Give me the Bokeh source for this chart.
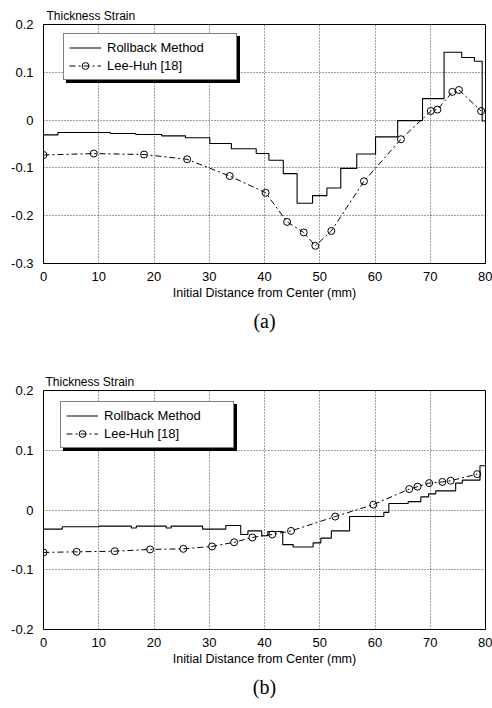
from bokeh.plotting import figure
from bokeh.layouts import column
from bokeh.models import FixedTicker, Legend, LegendItem, Title, Range1d
from bokeh.embed import file_html
from bokeh.resources import INLINE

# ---------------- data ----------------
x_ticks = [0, 10, 20, 30, 40, 50, 60, 70, 80]
x_tick_labels = ["0", "10", "20", "30", "40", "50", "60", "70", "80"]

y_ticks_a = [-0.3, -0.2, -0.1, 0, 0.1, 0.2]
y_tick_labels_a = ["-0.3", "-0.2", "-0.1", "0", "0.1", "0.2"]
y_ticks_b = [-0.2, -0.1, 0, 0.1, 0.2]
y_tick_labels_b = ["-0.2", "-0.1", "0", "0.1", "0.2"]

# (a) Rollback method (step values, each holds until the next x)
roll_a_x = [0, 2.6, 12.1, 16.7, 21.4, 25.7, 30.1, 34.0, 38.5, 40.8, 43.4, 45.9, 48.7,
            51.3, 53.8, 56.7, 60.1, 64.1, 68.6, 72.5, 75.7, 78.0, 79.4, 80]
roll_a_y = [-0.031, -0.026, -0.028, -0.030, -0.033, -0.037, -0.049, -0.060, -0.070,
            -0.084, -0.112, -0.174, -0.158, -0.142, -0.101, -0.071, -0.035, -0.001,
            0.045, 0.142, 0.131, 0.123, -0.002, -0.002]
# (a) Lee-Huh [18]
lee_a_x = [0, 9.1, 18.2, 26.0, 33.7, 40.2, 44.1, 47.1, 49.2, 52.1, 58.0, 64.7, 70.1,
           71.3, 74.0, 75.2, 79.2]
lee_a_y = [-0.073, -0.070, -0.072, -0.082, -0.117, -0.152, -0.213, -0.235, -0.263,
           -0.232, -0.128, -0.040, 0.019, 0.022, 0.059, 0.063, 0.019]

# (b) Rollback method
roll_b_x = [0, 3.4, 10.0, 15.9, 16.8, 22.2, 23.1, 28.8, 33.0, 35.7, 37.0, 39.5, 40.6,
            43.3, 45.2, 48.8, 50.2, 52.1, 55.4, 61.6, 62.5, 66.0, 68.3, 69.7, 71.0,
            74.6, 75.8, 79.0, 80]
roll_b_y = [-0.032, -0.028, -0.027, -0.030, -0.027, -0.030, -0.027, -0.032, -0.026,
            -0.041, -0.035, -0.043, -0.036, -0.058, -0.062, -0.055, -0.047, -0.035,
            -0.011, -0.004, 0.011, 0.014, 0.022, 0.027, 0.032, 0.045, 0.050, 0.074, 0.074]
# (b) Lee-Huh [18]
lee_b_x = [0, 6.0, 12.9, 19.3, 25.3, 30.5, 34.5, 37.8, 41.4, 44.8, 52.8, 59.7, 66.2,
           67.7, 69.8, 72.2, 73.7, 78.5]
lee_b_y = [-0.071, -0.070, -0.069, -0.066, -0.065, -0.061, -0.054, -0.046, -0.041,
           -0.035, -0.011, 0.009, 0.035, 0.039, 0.045, 0.047, 0.049, 0.060]

label_roll = "Rollback Method"
label_lee = "Lee-Huh [18]"
y_title = "Thickness Strain"
x_title = "Initial Distance from Center (mm)"

SANS = "Liberation Sans"


def make_fig(height, border_left, border_top, border_bottom, y_range, y_ticks, y_labels,
             rx, ry, lx, ly, caption, legend_loc, title_offset, cap_offset):
    p = figure(width=492, height=height, output_backend="svg", toolbar_location=None,
               x_range=Range1d(0, 80), y_range=Range1d(*y_range),
               min_border_left=border_left, min_border_right=7,
               min_border_top=border_top, min_border_bottom=border_bottom)
    p.background_fill_color = "white"
    p.border_fill_color = "white"
    p.outline_line_color = "black"
    p.outline_line_width = 1

    # axes
    p.xaxis.ticker = FixedTicker(ticks=x_ticks)
    p.xaxis.major_label_overrides = {t: s for t, s in zip(x_ticks, x_tick_labels)}
    p.yaxis.ticker = FixedTicker(ticks=y_ticks)
    p.yaxis.major_label_overrides = {t: s for t, s in zip(y_ticks, y_labels)}
    for ax in (p.xaxis[0], p.yaxis[0]):
        ax.axis_line_color = "black"
        ax.axis_line_width = 1
        ax.major_tick_in = 0
        ax.major_tick_out = 0
        ax.minor_tick_line_color = None
        ax.major_label_text_font = SANS
        ax.major_label_text_font_size = "13px"
        ax.major_label_text_color = "black"
    p.xaxis.major_label_standoff = 8
    p.yaxis.major_label_standoff = 10
    p.xaxis.axis_label = x_title
    p.xaxis.axis_label_text_font = SANS
    p.xaxis.axis_label_text_font_size = "12.5px"
    p.xaxis.axis_label_text_font_style = "normal"
    p.xaxis.axis_label_text_color = "black"
    p.xaxis.axis_label_standoff = 2

    # grid
    p.xgrid.ticker = FixedTicker(ticks=x_ticks)
    p.ygrid.ticker = FixedTicker(ticks=y_ticks)
    for g in (p.xgrid[0], p.ygrid[0]):
        g.grid_line_color = "black"
        g.grid_line_alpha = 0.75
        g.grid_line_dash = "1 2"
        g.grid_line_width = 1

    # data
    r_roll = p.step(x=rx, y=ry, mode="after", line_color="black", line_width=1.1)
    r_lee_line = p.line(x=lx, y=ly, line_color="black", line_width=1,
                        line_dash="6 3 2 3")
    r_lee_pts = p.scatter(x=lx, y=ly, marker="circle", size=7, fill_color=None,
                          line_color="black", line_width=1)

    common = dict(margin=0, padding=5, spacing=1, glyph_width=32, glyph_height=17,
                  label_height=17, label_width=124, label_standoff=6,
                  label_text_font=SANS, label_text_font_size="13px",
                  label_text_color="black", border_line_color="black",
                  border_line_width=1, background_fill_alpha=1)

    # legend drop shadow (dummy renderer with no data, blank labels)
    d1 = p.line(x=[], y=[], line_alpha=0)
    shadow = Legend(items=[LegendItem(label=" ", renderers=[d1]),
                           LegendItem(label=" ", renderers=[d1])],
                    location=(legend_loc[0] + 3, legend_loc[1] - 3),
                    background_fill_color="black", **common)
    legend = Legend(items=[LegendItem(label=label_roll, renderers=[r_roll]),
                           LegendItem(label=label_lee, renderers=[r_lee_line, r_lee_pts])],
                    location=legend_loc, background_fill_color="white", **common)
    p.add_layout(shadow, "center")
    p.add_layout(legend, "center")

    # y title at top-left
    p.add_layout(Title(text=y_title, align="left", offset=title_offset, standoff=4,
                       text_font=SANS, text_font_size="12px", text_font_style="normal",
                       text_color="black"), "above")
    # caption below
    p.add_layout(Title(text=caption, align="center", offset=cap_offset, standoff=10,
                       text_font="Liberation Serif", text_font_size="20px",
                       text_font_style="normal", text_color="black"), "below")
    return p


p1 = make_fig(354, 43, 24, 91, (-0.3, 0.2), y_ticks_a, y_tick_labels_a,
              roll_a_x, roll_a_y, lee_a_x, lee_a_y, "(a)", (20, 183), 3, -19)
p2 = make_fig(354, 41, 36, 79, (-0.2, 0.2), y_ticks_b, y_tick_labels_b,
              roll_b_x, roll_b_y, lee_b_x, lee_b_y, "(b)", (17, 181), 2, -18)

layout = column(p1, p2, spacing=0)
open("out.html", "w").write(file_html(layout, INLINE))
